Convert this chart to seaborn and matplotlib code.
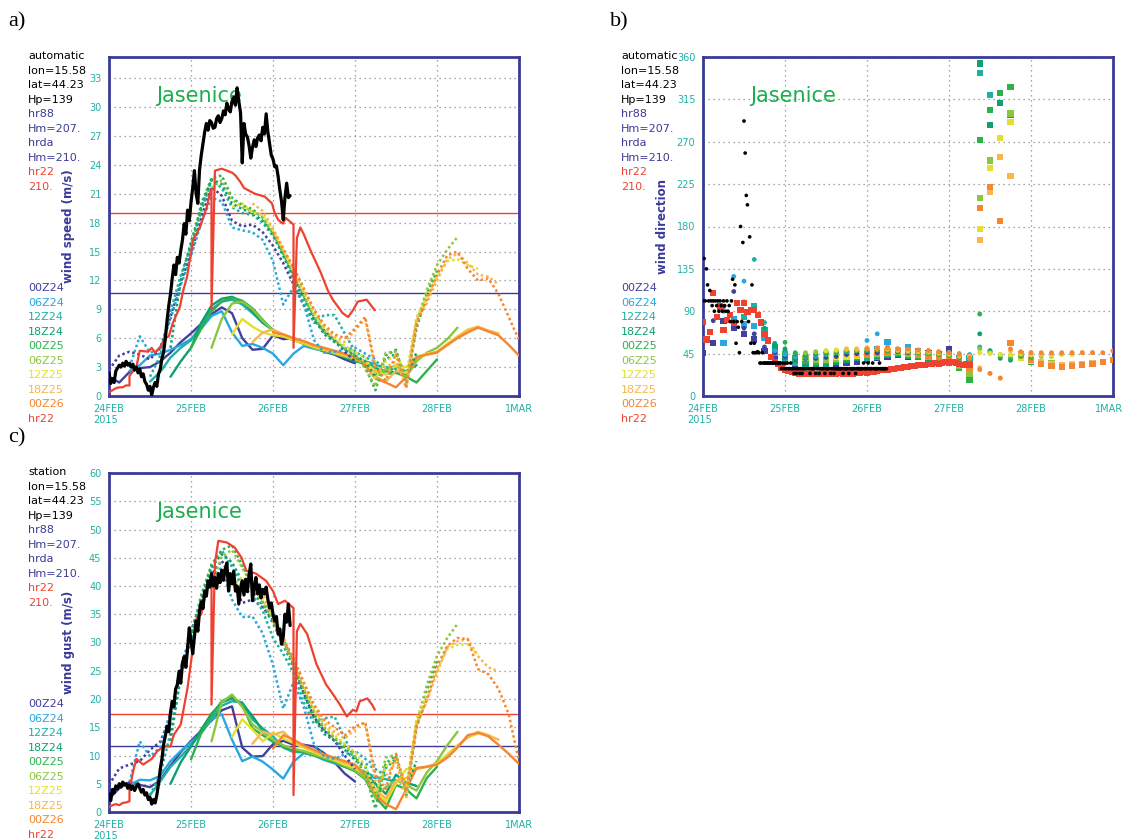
import matplotlib
matplotlib.use("Agg")
import matplotlib.pyplot as plt
import seaborn as sns

# ---------------------------------------------------------------- data
RUNS = ["00Z24", "06Z24", "12Z24", "18Z24", "00Z25", "06Z25", "12Z25", "18Z25", "00Z26"]
RUN_START_H = [0, 6, 12, 18, 24, 30, 36, 42, 48]   # hours after 24 FEB 00 UTC
STEP_H = 3

# 10 m wind speed (m/s), hr88 (solid) and hrda (dotted), 3-hourly from run start
SPD_HR88_00Z24 = [2.0, 1.4, 2.5, 2.9, 3.0, 3.6, 4.5, 5.6, 6.5, 7.5, 8.5, 9.2, 8.6, 6.0, 4.8, 4.9, 6.3, 5.9, 6.0, 5.6, 5.0, 4.6, 4.3, 3.8, 3.4]
SPD_HR88_06Z24 = [2.6, 3.2, 4.2, 4.4, 4.8, 5.3, 5.9, 7.0, 8.3, 8.8, 6.6, 5.2, 5.4, 5.0, 4.4, 3.2, 4.4, 5.2, 4.9, 4.7, 4.5, 4.2, 3.9, 3.6, 3.3]
SPD_HR88_12Z24 = [1.5, 2.5, 4.0, 5.0, 5.8, 7.4, 9.0, 9.8, 10.0, 9.5, 8.6, 7.6, 6.8, 6.3, 6.0, 5.6, 5.2, 4.8, 4.5, 4.2, 3.7, 3.5, 3.2, 3.0, 2.8]
SPD_HR88_18Z24 = [2.0, 3.6, 5.0, 7.6, 9.4, 10.1, 10.3, 9.8, 8.8, 7.6, 6.9, 6.2, 5.9, 5.5, 5.1, 4.8, 4.4, 4.0, 3.6, 3.4, 2.9, 2.6, 2.4, 2.6, 3.2]
SPD_HR88_00Z25 = [5.0, 7.0, 8.8, 9.8, 10.2, 9.9, 9.1, 7.9, 6.8, 6.2, 5.8, 5.5, 5.0, 4.7, 4.4, 4.1, 3.8, 3.2, 2.6, 2.3, 2.4, 2.0, 1.4, 2.6, 3.8]
SPD_HR88_06Z25 = [5.0, 8.0, 9.6, 9.8, 9.0, 7.8, 6.8, 6.3, 5.8, 5.4, 5.0, 4.7, 4.4, 4.1, 3.8, 3.3, 2.5, 2.7, 3.2, 2.0, 3.6, 4.5, 5.0, 5.9, 7.1]
SPD_HR88_12Z25 = [6.4, 8.0, 7.2, 6.6, 6.3, 6.2, 5.8, 5.5, 5.1, 4.8, 4.5, 4.2, 3.9, 3.5, 2.6, 2.2, 3.2, 3.0, 4.1, 4.4, 4.6, 5.4, 6.2, 6.9, 7.2]
SPD_HR88_18Z25 = [5.6, 6.6, 6.9, 6.4, 6.0, 5.6, 5.2, 4.9, 4.6, 4.3, 4.0, 3.6, 2.0, 1.5, 2.6, 2.4, 4.0, 4.3, 4.6, 5.3, 6.1, 6.8, 7.2, 6.8, 6.5]
SPD_HR88_00Z26 = [6.6, 6.4, 6.0, 5.7, 5.3, 5.0, 4.7, 4.4, 4.0, 3.2, 1.8, 1.4, 0.9, 2.0, 4.0, 4.3, 4.5, 5.3, 6.0, 6.6, 7.1, 6.7, 6.3, 5.3, 4.2]

SPD_HRDA_00Z24 = [2.7, 4.2, 4.6, 4.3, 3.8, 5.0, 8.2, 11.8, 14.8, 18.5, 21.7, 20.8, 18.2, 17.6, 17.8, 17.0, 15.6, 13.8, 11.6, 9.4, 7.8, 6.8, 5.8, 4.6, 3.6]
SPD_HRDA_06Z24 = [3.0, 6.2, 4.5, 4.8, 8.0, 11.5, 14.5, 18.0, 20.6, 20.2, 17.5, 17.2, 17.0, 16.2, 14.0, 9.5, 11.3, 9.6, 5.8, 4.5, 4.6, 4.8, 5.0, 4.4, 3.8]
SPD_HRDA_12Z24 = [2.0, 4.2, 8.8, 12.5, 15.6, 19.2, 22.4, 21.6, 19.6, 19.0, 18.8, 18.0, 16.6, 14.6, 12.0, 9.6, 7.6, 8.4, 8.4, 6.5, 4.6, 4.0, 3.6, 3.0, 2.6]
SPD_HRDA_18Z24 = [5.0, 12.0, 16.0, 19.6, 22.5, 22.0, 20.0, 19.4, 19.0, 18.2, 16.8, 14.6, 12.4, 10.2, 8.0, 6.4, 5.6, 4.8, 4.2, 3.6, 2.0, 3.8, 4.4, 2.0, 4.5]
SPD_HRDA_00Z25 = [15.0, 20.0, 22.6, 22.9, 20.6, 19.8, 19.4, 18.5, 16.9, 14.8, 12.6, 10.4, 8.2, 6.6, 5.8, 5.0, 4.2, 3.0, 0.6, 4.2, 4.8, 1.3, 7.0, 10.6, 13.0]
SPD_HRDA_06Z25 = [21.6, 22.4, 20.4, 19.6, 19.2, 18.6, 17.0, 15.0, 12.8, 10.5, 8.4, 6.8, 5.8, 5.0, 4.4, 2.8, 1.0, 4.5, 4.6, 1.6, 7.6, 11.0, 13.6, 15.2, 16.5]
SPD_HRDA_12Z25 = [19.6, 20.0, 19.0, 18.8, 17.2, 15.2, 13.0, 10.8, 8.6, 7.0, 6.0, 5.2, 4.6, 4.0, 1.8, 3.6, 4.2, 2.2, 8.2, 10.2, 12.4, 14.0, 14.2, 13.6, 13.2]
SPD_HRDA_18Z25 = [20.0, 19.2, 17.4, 15.4, 13.2, 11.0, 8.8, 7.2, 6.2, 5.6, 6.8, 8.0, 2.6, 3.0, 3.6, 1.0, 8.0, 9.6, 12.0, 14.2, 14.8, 13.8, 12.6, 12.4, 11.6]
SPD_HRDA_00Z26 = [17.0, 15.2, 13.4, 11.2, 9.0, 7.4, 6.4, 6.0, 7.0, 8.2, 3.0, 1.6, 4.4, 0.8, 7.4, 10.0, 12.6, 14.6, 15.0, 13.2, 12.0, 12.2, 10.6, 8.2, 5.8]

# wind gust (m/s)
GST_HR88_00Z24 = [2.3, 4.2, 5.3, 4.8, 4.4, 5.6, 8.2, 10.6, 12.6, 14.4, 16.2, 18.0, 18.7, 11.4, 9.8, 9.9, 12.0, 12.6, 11.9, 11.9, 11.6, 10.4, 8.8, 6.8, 5.4]
GST_HR88_06Z24 = [4.8, 5.7, 5.6, 6.4, 9.0, 10.8, 12.4, 14.0, 16.4, 17.3, 12.8, 9.0, 9.8, 8.9, 7.5, 5.9, 8.9, 10.4, 10.0, 9.2, 8.6, 8.0, 7.4, 6.6, 6.0]
GST_HR88_12Z24 = [3.0, 5.4, 8.0, 9.8, 11.8, 14.0, 16.4, 18.8, 19.6, 19.4, 16.4, 14.8, 13.4, 11.4, 10.6, 10.6, 10.2, 9.6, 9.0, 8.4, 7.6, 7.0, 6.2, 5.8, 5.4]
GST_HR88_18Z24 = [5.0, 8.8, 11.6, 14.6, 17.4, 19.4, 20.1, 19.2, 17.0, 14.4, 12.6, 11.6, 11.0, 10.6, 10.2, 9.6, 9.0, 8.2, 7.4, 6.8, 5.0, 3.2, 6.6, 5.2, 4.6]
GST_HR88_00Z25 = [9.3, 14.0, 17.0, 19.6, 20.5, 19.0, 14.8, 13.6, 12.4, 11.6, 11.0, 10.6, 10.0, 9.4, 8.8, 8.0, 7.2, 5.8, 2.6, 0.6, 4.8, 4.0, 2.4, 6.0, 8.0]
GST_HR88_06Z25 = [12.5, 19.4, 20.8, 18.6, 15.5, 14.2, 12.8, 11.8, 11.2, 10.8, 10.2, 9.6, 9.0, 8.2, 7.4, 6.0, 3.0, 4.4, 5.6, 4.8, 3.8, 7.0, 9.0, 11.8, 14.2]
GST_HR88_12Z25 = [13.3, 16.4, 14.6, 12.5, 14.0, 13.0, 12.2, 11.4, 10.6, 9.8, 9.2, 8.4, 7.8, 6.6, 3.4, 1.8, 5.0, 7.6, 7.7, 8.0, 8.6, 10.2, 11.8, 13.2, 13.9]
GST_HR88_18Z25 = [12.1, 14.2, 13.7, 14.2, 12.5, 11.6, 10.8, 10.0, 9.4, 8.8, 8.2, 6.8, 4.0, 2.4, 5.6, 6.0, 7.6, 8.0, 8.4, 9.8, 11.6, 13.2, 14.2, 13.6, 12.8]
GST_HR88_00Z26 = [11.2, 13.6, 12.8, 11.8, 11.0, 10.2, 9.6, 9.0, 8.4, 6.4, 3.0, 1.4, 0.5, 4.0, 7.8, 8.0, 8.4, 9.6, 11.4, 13.6, 14.0, 13.4, 11.9, 10.3, 8.5]

GST_HRDA_00Z24 = [4.8, 7.7, 8.4, 9.0, 11.0, 12.4, 17.0, 25.0, 32.0, 37.4, 42.0, 44.5, 41.0, 37.0, 37.6, 36.2, 34.0, 30.4, 26.2, 21.0, 16.8, 14.4, 12.6, 10.0, 7.6]
GST_HRDA_06Z24 = [5.3, 12.5, 9.8, 11.5, 17.8, 25.4, 31.6, 37.0, 41.4, 43.3, 37.6, 34.5, 34.6, 31.6, 26.0, 18.3, 23.0, 18.6, 12.0, 9.8, 9.4, 10.2, 10.8, 9.4, 8.2]
GST_HRDA_12Z24 = [3.0, 6.6, 14.0, 24.0, 30.4, 36.8, 43.0, 46.3, 43.4, 39.8, 38.4, 35.6, 30.8, 28.0, 24.6, 19.4, 15.6, 16.6, 16.9, 13.0, 9.4, 8.6, 7.6, 6.4, 5.6]
GST_HRDA_18Z24 = [12.6, 24.0, 31.0, 37.6, 43.4, 45.6, 44.2, 40.8, 39.2, 36.6, 33.4, 29.6, 25.6, 20.8, 16.6, 13.8, 12.6, 11.0, 9.2, 8.0, 3.6, 7.8, 9.4, 4.2, 9.0]
GST_HRDA_00Z25 = [31.0, 38.4, 43.8, 46.4, 47.2, 43.6, 40.2, 37.2, 34.4, 30.6, 26.4, 21.6, 17.4, 14.6, 13.0, 11.4, 9.6, 6.8, 0.6, 8.6, 10.0, 2.8, 14.8, 21.4, 26.7]
GST_HRDA_06Z25 = [40.4, 45.2, 46.4, 43.2, 40.0, 37.0, 34.2, 30.2, 26.2, 21.8, 17.8, 15.0, 13.2, 11.8, 10.0, 6.4, 2.4, 9.6, 10.2, 3.4, 15.8, 22.4, 27.6, 30.8, 33.3]
GST_HRDA_12Z25 = [40.0, 41.6, 39.6, 37.6, 34.6, 30.8, 26.6, 22.2, 18.2, 15.4, 13.6, 12.0, 10.6, 8.2, 3.4, 8.0, 9.6, 4.4, 16.6, 20.6, 25.2, 28.8, 29.6, 29.7, 27.8]
GST_HRDA_18Z25 = [40.2, 38.4, 35.0, 31.0, 27.0, 22.6, 18.6, 15.8, 14.2, 13.0, 14.6, 16.0, 5.2, 6.4, 8.8, 2.6, 15.5, 19.6, 24.6, 29.2, 30.2, 30.6, 27.6, 25.6, 24.9]
GST_HRDA_00Z26 = [33.8, 30.4, 27.2, 23.0, 19.0, 16.4, 15.0, 13.6, 15.2, 15.8, 6.6, 4.1, 10.3, 3.6, 15.2, 19.8, 25.8, 29.4, 30.8, 30.6, 25.3, 24.4, 21.8, 17.3, 8.9]

# wind direction (deg), hrda (squares) and hr88 (dots)
DIR_HRDA_00Z24 = [46, 56, 80, 72, 66, 60, 48, 40, 36, 34, 33, 32, 33, 34, 35, 36, 38, 40, 42, 44, 42, 44, 46, 45, 50]
DIR_HRDA_06Z24 = [56, 82, 76, 74, 62, 46, 38, 35, 34, 33, 34, 36, 38, 40, 42, 50, 57, 48, 52, 48, 44, 42, 43, 40, 38]
DIR_HRDA_12Z24 = [84, 95, 70, 50, 40, 36, 34, 33, 34, 36, 38, 40, 40, 42, 44, 46, 44, 42, 44, 40, 38, 36, 40, 343, 320]
DIR_HRDA_18Z24 = [66, 52, 42, 38, 35, 34, 35, 36, 38, 40, 41, 43, 44, 45, 43, 42, 40, 40, 38, 33, 20, 353, 288, 311, 299]
DIR_HRDA_00Z25 = [45, 40, 37, 36, 37, 38, 40, 41, 42, 44, 45, 46, 44, 43, 42, 40, 36, 30, 17, 272, 304, 322, 328, 40, 36]
DIR_HRDA_06Z25 = [40, 38, 38, 39, 41, 43, 44, 45, 46, 47, 45, 44, 42, 40, 38, 32, 24, 210, 250, 274, 300, 42, 38, 36, 35]
DIR_HRDA_12Z25 = [44, 42, 42, 43, 45, 47, 48, 49, 47, 45, 44, 42, 40, 36, 30, 177, 242, 274, 291, 40, 37, 35, 34, 33, 34]
DIR_HRDA_18Z25 = [46, 44, 44, 46, 48, 49, 48, 46, 44, 42, 40, 36, 30, 166, 217, 254, 234, 45, 38, 36, 34, 33, 33, 34, 35]
DIR_HRDA_00Z26 = [44, 46, 47, 48, 47, 45, 43, 42, 40, 37, 30, 200, 222, 186, 56, 44, 38, 34, 32, 31, 32, 33, 34, 36, 38]

DIR_HR88_00Z24 = [60, 80, 95, 111, 72, 66, 52, 46, 42, 40, 40, 40, 41, 42, 44, 45, 46, 46, 48, 47, 46, 47, 48, 46, 47]
DIR_HR88_06Z24 = [90, 127, 122, 92, 64, 48, 44, 41, 41, 42, 44, 46, 47, 49, 59, 66, 52, 50, 48, 47, 47, 46, 46, 45, 44]
DIR_HR88_12Z24 = [100, 145, 78, 56, 48, 44, 42, 43, 45, 46, 47, 48, 48, 49, 48, 48, 47, 47, 46, 46, 46, 44, 42, 52, 48]
DIR_HR88_18Z24 = [72, 55, 50, 45, 43, 44, 46, 47, 48, 48, 48, 49, 48, 48, 47, 46, 45, 45, 44, 42, 40, 66, 48, 40, 38]
DIR_HR88_00Z25 = [57, 46, 44, 45, 46, 47, 48, 48, 49, 49, 48, 48, 47, 46, 45, 44, 43, 40, 38, 87, 46, 42, 40, 42, 41]
DIR_HR88_06Z25 = [46, 47, 48, 48, 49, 49, 50, 50, 49, 48, 47, 47, 46, 45, 44, 42, 40, 50, 46, 44, 43, 44, 43, 42, 42]
DIR_HR88_12Z25 = [48, 49, 50, 50, 51, 51, 50, 49, 48, 47, 47, 46, 45, 43, 42, 46, 45, 44, 44, 45, 44, 44, 43, 44, 44]
DIR_HR88_18Z25 = [50, 50, 51, 51, 51, 50, 49, 48, 48, 47, 46, 44, 42, 30, 24, 19, 48, 46, 46, 45, 45, 45, 46, 46, 46]
DIR_HR88_00Z26 = [50, 51, 51, 50, 50, 49, 48, 47, 46, 44, 40, 28, 24, 19, 50, 47, 46, 46, 46, 46, 46, 46, 46, 46, 48]

# hr22 (consecutive runs joined into one trace)
HR22_SPD_H = [0, 1, 2, 3, 4, 5, 6, 6, 8, 9, 11.5, 12.5, 13.5, 15, 16.5, 17.5, 18.7, 20.8, 21.6, 22.8,
              24.6, 26.6, 28.6, 29.5, 30, 30, 31, 33, 36, 37, 38.5, 39.5, 42.7, 45.6, 47.7, 48.5, 49.5,
              50.9, 51.7, 54, 54, 55, 56, 57, 59, 62, 64, 65.5, 68.4, 70, 71.4, 72.8, 75.4, 77.8]
HR22_SPD = [0.4, 0.6, 0.8, 0.9, 0.9, 1.1, 1.1, 2.1, 3.0, 4.7, 4.6, 5.0, 4.5, 5.1, 6.0, 6.2, 7.6, 9.3, 10.8, 12.3,
            16.2, 17.5, 19.6, 21.0, 21.5, 9.0, 23.4, 23.6, 23.2, 22.9, 22.2, 21.6, 21.0, 20.7, 20.0, 19.0, 18.3,
            17.9, 18.5, 17.8, 5.0, 16.4, 17.5, 16.8, 15.1, 12.8, 11.0, 10.0, 8.6, 8.2, 8.9, 9.8, 10.0, 8.9]
HR22_GST_H = [0, 1, 2, 3, 4, 5, 6, 6, 7, 8, 10, 12.5, 14, 16, 18, 19, 21, 23, 25.7, 27, 28.6, 29.5, 30,
              30, 31, 32, 34.5, 36.8, 38.8, 40.2, 43, 46, 48, 49.5, 51.5, 54, 54, 55, 56, 58, 60.7, 63.5,
              65.6, 67.6, 69.6, 71.4, 72.4, 73.4, 75.6, 77, 77.8]
HR22_GST = [0.9, 1.2, 1.4, 1.2, 1.6, 1.7, 1.9, 3.8, 7.0, 9.4, 8.4, 9.4, 10.7, 11.6, 11.6, 13.7, 15.5, 22.0, 34.3,
            35.0, 39.7, 41.0, 41.5, 19.0, 44.0, 48.0, 47.7, 46.8, 45.0, 42.7, 42.2, 40.9, 39.1, 36.8, 37.4, 36.1,
            3.0, 32.0, 33.3, 31.5, 26.2, 22.6, 20.8, 19.0, 16.9, 18.1, 17.8, 19.6, 20.1, 19.0, 18.1]
HR22_DIR = [79, 60, 68, 109, 84, 95, 70, 81, 86, 78, 99, 91,
            99, 89, 91, 91, 86, 78, 66, 59, 41, 36, 34, 30,
            28, 27, 26, 25, 24, 24, 23, 23, 24, 23, 23, 24,
            24, 23, 24, 24, 25, 24, 24, 25, 24, 25, 25, 26,
            25, 26, 26, 27, 28, 28, 28, 29, 29, 30, 30, 31,
            31, 32, 32, 33, 33, 33, 34, 34, 35, 34, 35, 36,
            35, 36, 35, 34, 33, 34, 33]          # hourly from 24 FEB 00

# station observations
OBS_SPD = [2.4, 1.3, 1.8, 1.4, 2.6, 2.9, 3.2, 3.0, 3.4, 3.1, 3.6, 3.2, 3.4, 3.0, 3.3, 2.7, 3.0, 2.4, 2.8, 2.0,
           2.3, 1.5, 1.2, 0.6, 1.0, 0.1, 0.9, 1.4, 1.0, 2.3, 2.8, 3.9, 4.6, 6.0, 7.9, 9.4, 10.6, 12.2, 13.6, 12.6,
           14.4, 13.8, 15.1, 16.2, 17.9, 16.8, 19.3, 18.2, 20.1, 21.6, 23.4, 21.0, 20.0, 23.5, 25.0, 26.2, 27.4, 28.3, 27.6, 28.6,
           28.4, 27.8, 27.9, 28.8, 29.1, 28.4, 28.8, 29.6, 29.2, 30.4, 29.8, 29.5, 30.6, 31.0, 30.2, 32.0, 30.6, 29.4, 24.2, 28.3,
           27.2, 26.9, 26.0, 24.7, 25.8, 26.6, 25.9, 26.8, 27.1, 26.5, 27.9, 27.2, 29.3, 27.4, 26.2, 25.0, 24.6, 23.8, 23.9, 22.8,
           21.4, 20.2, 18.3, 20.6, 22.1, 20.6, 20.8]          # every 30 min
OBS_GST = [3.2, 2.0, 4.0, 3.4, 4.6, 4.1, 5.0, 4.4, 5.3, 4.8, 5.0, 4.2, 4.8, 4.0, 4.6, 3.8, 4.5, 5.0, 4.2, 3.5,
           4.0, 3.0, 3.4, 2.2, 2.6, 1.4, 2.2, 1.6, 3.0, 5.0, 7.6, 9.4, 12.0, 13.5, 15.2, 14.2, 17.6, 19.6, 18.6, 21.8,
           22.5, 24.9, 22.8, 26.4, 27.5, 25.6, 29.0, 32.6, 30.3, 28.0, 31.0, 33.8, 32.0, 35.6, 37.2, 36.0, 39.1, 38.2, 40.9, 39.8,
           42.2, 40.0, 41.5, 39.6, 42.2, 40.6, 42.8, 41.0, 43.0, 44.1, 39.1, 42.2, 40.4, 42.6, 39.1, 40.0, 36.8, 39.6, 40.9, 38.4,
           41.2, 39.0, 42.0, 43.9, 37.4, 39.8, 41.5, 38.6, 40.2, 37.9, 39.4, 38.6, 39.8, 37.6, 36.1, 37.0, 35.0, 33.8, 34.6, 31.5,
           32.4, 29.7, 31.0, 35.0, 33.6, 36.8, 33.0]          # every 30 min
OBS_DIR = [101, 146, 101, 135, 118, 101, 112, 101, 96,
           101, 90, 101, 96, 101, 90, 101, 96, 90,
           101, 96, 90, 101, 90, 96, 79, 101, 124,
           79, 118, 56, 79, 73, 46, 180, 79, 163,
           292, 258, 213, 203, 79, 169, 56, 118, 46,
           56, 46, 46, 47, 46, 35, 35, 46, 35,
           35, 35, 35, 35, 35, 35, 35, 35, 35,
           35, 35, 35, 35, 35, 35, 29, 35, 29,
           35, 29, 35, 29, 29, 35, 29, 29, 24,
           29, 24, 29, 29, 24, 29, 24, 29, 29,
           29, 29, 29, 29, 24, 29, 29, 29, 29,
           24, 29, 29, 24, 29, 29, 29, 29, 24,
           29, 29, 29, 29, 24, 29, 29, 24, 29,
           29, 29, 29, 29, 29, 29, 24, 29, 29,
           29, 29, 24, 29, 29, 29, 29, 29, 24,
           29, 29, 29, 29, 29, 29, 35, 29, 29,
           29, 35, 29, 29, 29, 35, 29, 29, 29,
           29, 29, 35, 29, 29, 29, 29, 29, 29]          # every 20 min

SPD_LEVELS = [19.0, 10.7]      # hr22 / model reference levels
GST_LEVELS = [17.3, 11.6]

XTICK_H = [0, 24, 48, 72, 96, 120]
XTICK_LABELS = ["24FEB\n2015", "25FEB", "26FEB", "27FEB", "28FEB", "1MAR"]
STATION = "Jasenice"
HEADER_A = ["automatic", "lon=15.58", "lat=44.23", "Hp=139"]
HEADER_C = ["station", "lon=15.58", "lat=44.23", "Hp=139"]
MODEL_INFO = ["hr88", "Hm=207.", "hrda", "Hm=210.", "hr22", "210."]

# ---------------------------------------------------------------- style
RUN_COLORS = ["#41419d", "#27a8e0", "#1eb1a3", "#109f6f", "#2db24b",
              "#8cc63f", "#e4df2c", "#f8b64c", "#f6862f"]
RED = "#ef4130"
NAVY = "#3a3a98"
TEAL = "#1fb1a4"
GREEN = "#1cae4e"
W, H = 1125, 840

SPD_HR88 = [SPD_HR88_00Z24, SPD_HR88_06Z24, SPD_HR88_12Z24, SPD_HR88_18Z24, SPD_HR88_00Z25,
            SPD_HR88_06Z25, SPD_HR88_12Z25, SPD_HR88_18Z25, SPD_HR88_00Z26]
SPD_HRDA = [SPD_HRDA_00Z24, SPD_HRDA_06Z24, SPD_HRDA_12Z24, SPD_HRDA_18Z24, SPD_HRDA_00Z25,
            SPD_HRDA_06Z25, SPD_HRDA_12Z25, SPD_HRDA_18Z25, SPD_HRDA_00Z26]
GST_HR88 = [GST_HR88_00Z24, GST_HR88_06Z24, GST_HR88_12Z24, GST_HR88_18Z24, GST_HR88_00Z25,
            GST_HR88_06Z25, GST_HR88_12Z25, GST_HR88_18Z25, GST_HR88_00Z26]
GST_HRDA = [GST_HRDA_00Z24, GST_HRDA_06Z24, GST_HRDA_12Z24, GST_HRDA_18Z24, GST_HRDA_00Z25,
            GST_HRDA_06Z25, GST_HRDA_12Z25, GST_HRDA_18Z25, GST_HRDA_00Z26]
DIR_HRDA = [DIR_HRDA_00Z24, DIR_HRDA_06Z24, DIR_HRDA_12Z24, DIR_HRDA_18Z24, DIR_HRDA_00Z25,
            DIR_HRDA_06Z25, DIR_HRDA_12Z25, DIR_HRDA_18Z25, DIR_HRDA_00Z26]
DIR_HR88 = [DIR_HR88_00Z24, DIR_HR88_06Z24, DIR_HR88_12Z24, DIR_HR88_18Z24, DIR_HR88_00Z25,
            DIR_HR88_06Z25, DIR_HR88_12Z25, DIR_HR88_18Z25, DIR_HR88_00Z26]


def run_hours(i, n):
    return [RUN_START_H[i] + STEP_H * k for k in range(n)]


sns.set_style("white")
plt.rcParams["font.family"] = ["DejaVu Sans"]

fig = plt.figure(figsize=(W / 100, H / 100), dpi=100)


def px_axes(left, top, right, bottom):
    return fig.add_axes([left / W, 1 - bottom / H, (right - left) / W, (bottom - top) / H])


def fig_text(x, y, s, **kw):
    fig.text(x / W, 1 - y / H, s, va="center", ha="left", **kw)


def line(ax, t, v, color, dotted=False, lw=1.6, z=3):
    sns.lineplot(x=t, y=v, ax=ax, color=color, linewidth=lw, sort=False, estimator=None,
                 legend=False, zorder=z,
                 linestyle=(0, (1, 1.1)) if dotted else "-")


def frame(ax, ymax, yticks, ylabel, last_label_inside=False):
    ax.set_xlim(0, 120)
    ax.set_ylim(0, ymax)
    ax.set_xticks(XTICK_H)
    labels = list(XTICK_LABELS)
    if last_label_inside:
        labels[-1] = ""
    ax.set_xticklabels(labels)
    ax.get_xticklabels()[0].set_multialignment("left")
    ax.set_yticks(yticks)
    ax.set_yticklabels([str(v) for v in yticks])
    ax.grid(True, color="#8a8a8a", linestyle=(0, (1, 3)), linewidth=0.9)
    ax.set_axisbelow(True)
    for sp in ax.spines.values():
        sp.set_color(NAVY)
        sp.set_linewidth(2)
    ax.tick_params(axis="both", direction="out", length=4, width=1, color=TEAL,
                   labelcolor=TEAL, labelsize=7, pad=1.5)
    if last_label_inside:
        ax.annotate(XTICK_LABELS[-1], xy=(1, 0), xycoords="axes fraction",
                    xytext=(7.5, -5.5), textcoords="offset points", ha="right", va="top",
                    color=TEAL, fontsize=7)
    ax.set_xlabel("")
    ax.set_ylabel(ylabel, color=NAVY, fontweight="bold", fontsize=8.5)
    ax.yaxis.set_label_coords(-0.083, 0.5)
    ax.text(0.115, 0.866, STATION, transform=ax.transAxes, color=GREEN, fontsize=15)


def series_panel(ax, hr88, hrda, hr22_t, hr22_v, obs, levels):
    for i, c in enumerate(RUN_COLORS):
        line(ax, run_hours(i, len(hr88[i])), hr88[i], c, lw=1.7)
    for i, c in enumerate(RUN_COLORS):
        line(ax, run_hours(i, len(hrda[i])), hrda[i], c, dotted=True, lw=1.8)
    line(ax, hr22_t, hr22_v, RED, lw=1.6, z=4)
    line(ax, [0.5 * k for k in range(len(obs))], obs, "black", lw=2.3, z=5)
    ax.axhline(levels[0], color=RED, lw=1.0, zorder=2)
    ax.axhline(levels[1], color=NAVY, lw=1.0, zorder=2)


# ---- a) wind speed
ax_a = px_axes(109, 57, 519, 396)
series_panel(ax_a, SPD_HR88, SPD_HRDA, HR22_SPD_H, HR22_SPD, OBS_SPD, SPD_LEVELS)
frame(ax_a, 35.2, list(range(0, 34, 3)), "wind speed (m/s)")

# ---- b) wind direction
ax_b = px_axes(703, 57, 1113, 396)
for i, c in enumerate(RUN_COLORS):
    sns.scatterplot(x=run_hours(i, len(DIR_HRDA[i])), y=DIR_HRDA[i], ax=ax_b, color=c,
                    marker="s", s=20, edgecolor="none", legend=False, zorder=3)
for i, c in enumerate(RUN_COLORS):
    sns.scatterplot(x=run_hours(i, len(DIR_HR88[i])), y=DIR_HR88[i], ax=ax_b, color=c,
                    marker="o", s=12, edgecolor="none", legend=False, zorder=3)
sns.scatterplot(x=list(range(len(HR22_DIR))), y=HR22_DIR, ax=ax_b, color=RED,
                marker="s", s=20, edgecolor="none", legend=False, zorder=3)
sns.scatterplot(x=[k / 3 for k in range(len(OBS_DIR))], y=OBS_DIR, ax=ax_b, color="black",
                marker="o", s=7, edgecolor="none", legend=False, zorder=4)
frame(ax_b, 360, list(range(0, 361, 45)), "wind direction", last_label_inside=True)

# ---- c) wind gust
ax_c = px_axes(109, 473, 519, 812)
series_panel(ax_c, GST_HR88, GST_HRDA, HR22_GST_H, HR22_GST, OBS_GST, GST_LEVELS)
frame(ax_c, 60, list(range(0, 61, 5)), "wind gust (m/s)")

# ---- side annotations
STEP_TXT = 14.55
for x0, y_head, y_runs, header in [(28, 56, 288, HEADER_A), (621, 56, 288, HEADER_A),
                                   (28, 472, 704, HEADER_C)]:
    for k, s in enumerate(header):
        fig_text(x0, y_head + k * STEP_TXT, s, color="black", fontsize=8)
    for k, s in enumerate(MODEL_INFO):
        fig_text(x0, y_head + (k + 4) * STEP_TXT, s, color=RED if k >= 4 else NAVY, fontsize=8)
    for k, (s, c) in enumerate(zip(RUNS + ["hr22"], RUN_COLORS + [RED])):
        fig_text(x0, y_runs + k * STEP_TXT, s, color=c, fontsize=8)

for x0, y0, s in [(8, 22, "a)"), (610, 22, "b)"), (8, 438, "c)")]:
    fig_text(x0, y0, s, color="black", fontsize=16, family=["Liberation Serif", "DejaVu Serif"])

fig.savefig("out.png", dpi=100)
